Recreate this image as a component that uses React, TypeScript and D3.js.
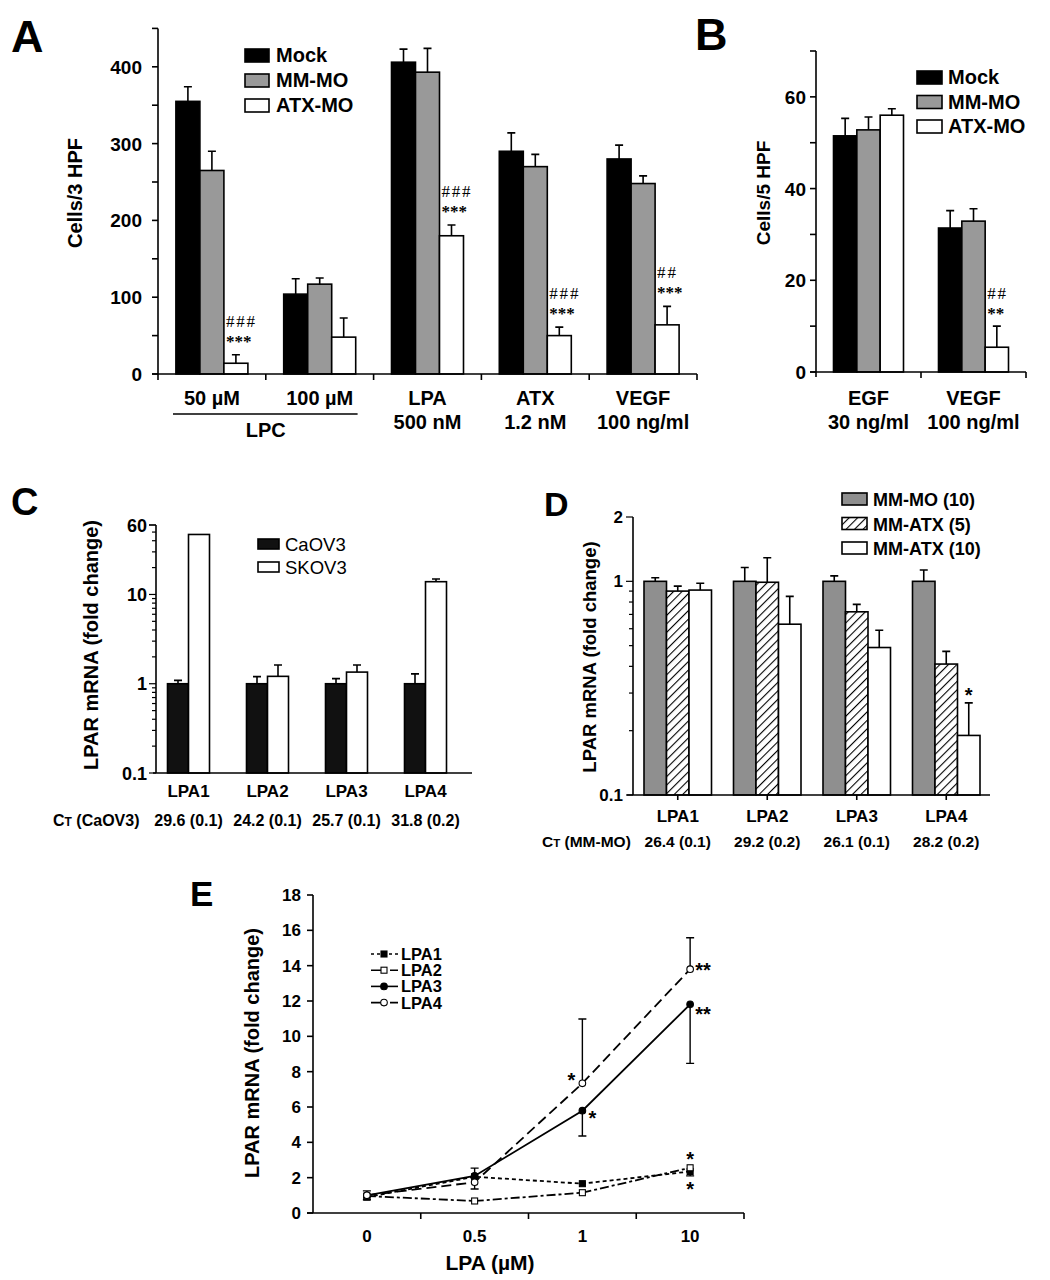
import React from 'react';
import * as d3 from 'd3';

const SANS = '"Liberation Sans", Arial, Helvetica, sans-serif';
const SERIF = '"Liberation Serif", "Times New Roman", serif';

// ---------- Panel A data ----------
const aCategories = ['50 µM', '100 µM', 'LPA', 'ATX', 'VEGF'];
const aSubLabels = ['', '', '500 nM', '1.2 nM', '100 ng/ml'];
const aSeries = ['Mock', 'MM-MO', 'ATX-MO'];
const aMock = [355, 104, 406, 290, 280];
const aMockErr = [19, 20, 17, 24, 18];
const aMM = [265, 117, 393, 270, 248];
const aMMErr = [25, 8, 31, 16, 10];
const aATX = [14, 48, 180, 50, 64];
const aATXErr = [11, 25, 14, 11, 24];
const aHash = ['###', '', '###', '###', '##'];
const aStars = ['***', '', '***', '***', '***'];
const aYTicks = [0, 100, 200, 300, 400];
const aGroupLabel = 'LPC';

// ---------- Panel B data ----------
const bCategories = ['EGF', 'VEGF'];
const bSubLabels = ['30 ng/ml', '100 ng/ml'];
const bMock = [51.5, 31.4];
const bMockErr = [3.8, 3.8];
const bMM = [52.8, 32.9];
const bMMErr = [2.8, 2.7];
const bATX = [56.0, 5.4];
const bATXErr = [1.4, 4.6];
const bHash = ['', '##'];
const bStars = ['', '**'];
const bYTicks = [0, 20, 40, 60];

// ---------- Panel C data ----------
const cGenes = ['LPA1', 'LPA2', 'LPA3', 'LPA4'];
const cSeries = ['CaOV3', 'SKOV3'];
const cCaov3 = [1, 1, 1, 1];
const cCaov3Upper = [1.09, 1.2, 1.14, 1.29];
const cSkov3 = [47, 1.21, 1.35, 13.9];
const cSkov3Upper = [null, 1.62, 1.62, 14.9];
const cCt = ['29.6 (0.1)', '24.2 (0.1)', '25.7 (0.1)', '31.8 (0.2)'];
const cYLabels = [0.1, 1, 10, 60];

// ---------- Panel D data ----------
const dSeries = ['MM-MO (10)', 'MM-ATX (5)', 'MM-ATX (10)'];
const dMMMO = [1, 1, 1, 1];
const dMMMOUpper = [1.04, 1.16, 1.06, 1.13];
const dATX5 = [0.9, 0.99, 0.72, 0.41];
const dATX5Upper = [0.95, 1.29, 0.78, 0.47];
const dATX10 = [0.91, 0.63, 0.49, 0.19];
const dATX10Upper = [0.98, 0.85, 0.59, 0.27];
const dStars = ['', '', '', '*'];
const dCt = ['26.4 (0.1)', '29.2 (0.2)', '26.1 (0.1)', '28.2 (0.2)'];
const dYLabels = [0.1, 1, 2];

// ---------- Panel E data ----------
const eDoses = ['0', '0.5', '1', '10'];
const eLPA1 = [0.9, 2.05, 1.66, 2.35];
const eLPA2 = [0.96, 0.68, 1.15, 2.56];
const eLPA3 = [1.0, 2.1, 5.79, 11.81];
const eLPA4 = [1.0, 1.74, 7.34, 13.8];
const eLPA1Lo = [null, null, null, 2.1];
const eLPA1Hi = [null, null, null, null];
const eLPA2Lo = [null, null, null, null];
const eLPA2Hi = [null, null, null, null];
const eLPA3Lo = [0.75, null, 4.36, 8.47];
const eLPA3Hi = [1.25, 2.54, null, null];
const eLPA4Lo = [null, 1.36, null, null];
const eLPA4Hi = [null, null, 10.98, 15.58];
const eLPA1Stars = ['', '', '', '*'];
const eLPA2Stars = ['', '', '', '*'];
const eLPA3Stars = ['', '', '*', '**'];
const eLPA4Stars = ['', '', '*', '**'];
const eYTicks = [0, 2, 4, 6, 8, 10, 12, 14, 16, 18];

const SW = 1.6;

function bars(key, cats, series, vals, uppers, fills, x, y, groupW, base) {
  const inner = d3.scaleBand().domain(series).range([0, groupW]);
  const out = [];
  cats.forEach((c, i) => {
    const gx = x(c) + x.bandwidth() / 2 - groupW / 2;
    series.forEach((s, j) => {
      const v = vals[j][i];
      const bx = gx + inner(s);
      const bw = inner.bandwidth();
      const yt = y(v);
      out.push(
        <rect key={`${key}-r-${i}-${j}`} x={bx} y={yt} width={bw} height={base - yt}
          fill={fills[j]} stroke="#000" strokeWidth={SW} />
      );
      const u = uppers[j][i];
      if (u != null && u > v) {
        const cx = bx + bw / 2;
        const uy = y(u);
        out.push(
          <path key={`${key}-e-${i}-${j}`} d={`M${cx},${yt}V${uy}M${cx - 4},${uy}H${cx + 4}`}
            stroke="#000" strokeWidth={SW} fill="none" />
        );
      }
    });
  });
  return out;
}

function barX(x, cats, series, groupW, c, s) {
  const inner = d3.scaleBand().domain(series).range([0, groupW]);
  return { x: x(c) + x.bandwidth() / 2 - groupW / 2 + inner(s), w: inner.bandwidth() };
}

function sigMark(key, x, top, hash, stars, hashGap, starGap) {
  if (!hash && !stars) return null;
  return (
    <g key={key} fontFamily={SERIF}>
      {hash && <text x={x} y={top - hashGap} fontSize={17} letterSpacing={1.8}>{hash}</text>}
      {stars && <text x={x} y={top - starGap} fontSize={17} fontWeight="bold">{stars}</text>}
    </g>
  );
}

export default function App() {
  // ===== Panel A =====
  const aX = d3.scaleBand().domain(aCategories).range([158, 697]);
  const aY = d3.scaleLinear().domain([0, 450]).range([374, 28.4]);
  const aGW = 72;
  const aBase = aY(0);
  const aFills = ['#000', '#999', '#fff'];
  const aUp = (vals, errs) => vals.map((v, i) => v + errs[i]);

  // ===== Panel B =====
  const bX = d3.scaleBand().domain(bCategories).range([816, 1026]);
  const bY = d3.scaleLinear().domain([0, 70]).range([372, 51]);
  const bGW = 70;
  const bBase = bY(0);

  // ===== Panel C =====
  const cX = d3.scaleBand().domain(cGenes).range([149, 465]);
  const cY = d3.scaleLog().domain([0.1, 60]).range([773, 525]);
  const cGW = 42;
  const cBase = cY(0.1);

  // ===== Panel D =====
  const dX = d3.scaleBand().domain(cGenes).range([633, 991]);
  const dY = d3.scaleLog().domain([0.1, 2]).range([795, 517]);
  const dGW = 67.5;
  const dBase = dY(0.1);

  // ===== Panel E =====
  const eX = d3.scaleBand().domain(eDoses).range([313, 744]);
  const eY = d3.scaleLinear().domain([0, 18]).range([1213, 895]);
  const ePx = (i) => eX(eDoses[i]) + eX.bandwidth() / 2;

  const eSeries = [
    { name: 'LPA1', vals: eLPA1, lo: eLPA1Lo, hi: eLPA1Hi, dash: '4,3', marker: 'sq', fill: '#000', stars: eLPA1Stars },
    { name: 'LPA2', vals: eLPA2, lo: eLPA2Lo, hi: eLPA2Hi, dash: '9,3,3,3', marker: 'sq', fill: '#fff', stars: eLPA2Stars },
    { name: 'LPA3', vals: eLPA3, lo: eLPA3Lo, hi: eLPA3Hi, dash: null, marker: 'ci', fill: '#000', stars: eLPA3Stars },
    { name: 'LPA4', vals: eLPA4, lo: eLPA4Lo, hi: eLPA4Hi, dash: '10,5', marker: 'ci', fill: '#fff', stars: eLPA4Stars },
  ];
  const eStarOff = {
    LPA1: [null, null, null, [0, 14, 'middle']],
    LPA2: [null, null, null, [0, -13, 'middle']],
    LPA3: [null, null, [6, 3, 'start'], [5, 6, 'start']],
    LPA4: [null, null, [-15, -7, 'start'], [5, -3, 'start']],
  };
  const line = d3.line().x((d) => d[0]).y((d) => d[1]);

  const marker = (key, m, fill, cx, cy) =>
    m === 'sq' ? (
      <rect key={key} x={cx - 3} y={cy - 3} width={6} height={6} fill={fill} stroke="#000" strokeWidth={1.1} />
    ) : (
      <circle key={key} cx={cx} cy={cy} r={3.3} fill={fill} stroke="#000" strokeWidth={1.1} />
    );

  const legendA = aSeries.map((s, j) => (
    <g key={`la-${j}`}>
      <rect x={245} y={49 + j * 25} width={24} height={13} fill={aFills[j]} stroke="#000" strokeWidth={SW} />
      <text x={276} y={62 + j * 25} fontSize={20} fontWeight="bold">{s}</text>
    </g>
  ));
  const legendB = aSeries.map((s, j) => (
    <g key={`lb-${j}`}>
      <rect x={917} y={71 + j * 24.5} width={25} height={13} fill={aFills[j]} stroke="#000" strokeWidth={SW} />
      <text x={948} y={84 + j * 24.5} fontSize={20} fontWeight="bold">{s}</text>
    </g>
  ));
  const cFills = ['#111', '#fff'];
  const legendC = cSeries.map((s, j) => (
    <g key={`lc-${j}`}>
      <rect x={258} y={539 + j * 23} width={21} height={10} fill={cFills[j]} stroke="#000" strokeWidth={SW} />
      <text x={285} y={551 + j * 23} fontSize={18.5}>{s}</text>
    </g>
  ));
  const dFills = ['#8f8f8f', 'url(#hatch)', '#fff'];
  const legendD = dSeries.map((s, j) => (
    <g key={`ld-${j}`}>
      <rect x={842} y={493 + j * 24.5} width={25} height={12} fill={dFills[j]} stroke="#000" strokeWidth={SW} />
      <text x={873} y={506 + j * 24.5} fontSize={18} fontWeight="bold">{s}</text>
    </g>
  ));

  return (
    <svg width={1050} height={1280} style={{ position: 'absolute', left: 0, top: 0, background: '#fff' }}
      fontFamily={SANS} fill="#000">
      <defs>
        <pattern id="hatch" patternUnits="userSpaceOnUse" width={6} height={6} patternTransform="rotate(45)">
          <rect width={6} height={6} fill="#fff" />
          <line x1={0} y1={0} x2={0} y2={6} stroke="#000" strokeWidth={2.2} />
        </pattern>
      </defs>
      <rect x={0} y={0} width={1050} height={1280} fill="#fff" />

      {/* ================= Panel A ================= */}
      <text x={11} y={52} fontSize={45} fontWeight="bold">A</text>
      <text transform="translate(75,193) rotate(-90)" textAnchor="middle" dy="0.35em" fontSize={20} fontWeight="bold">Cells/3 HPF</text>
      {d3.range(0, 451, 50).map((t) => (
        <line key={`at-${t}`} x1={152} x2={158} y1={aY(t)} y2={aY(t)} stroke="#000" strokeWidth={SW} />
      ))}
      {aYTicks.map((t) => (
        <text key={`al-${t}`} x={142} y={aY(t) + 7} textAnchor="end" fontSize={19} fontWeight="bold">{t}</text>
      ))}
      {bars('a', aCategories, aSeries, [aMock, aMM, aATX],
        [aUp(aMock, aMockErr), aUp(aMM, aMMErr), aUp(aATX, aATXErr)], aFills, aX, aY, aGW, aBase)}
      <line x1={158} x2={158} y1={aY(450)} y2={aBase + 6} stroke="#000" strokeWidth={SW} />
      <line x1={152} x2={697} y1={aBase} y2={aBase} stroke="#000" strokeWidth={SW} />
      {aCategories.map((c) => (
        <line key={`axt-${c}`} x1={aX(c) + aX.bandwidth()} x2={aX(c) + aX.bandwidth()} y1={aBase} y2={aBase + 6} stroke="#000" strokeWidth={SW} />
      ))}
      {aCategories.map((c, i) => {
        const b = barX(aX, aCategories, aSeries, aGW, c, aSeries[2]);
        const top = aY(aATX[i] + aATXErr[i]);
        return sigMark(`aan-${i}`, b.x + 2, top, aHash[i], aStars[i], 28, 8);
      })}
      {aCategories.map((c, i) => (
        <g key={`axl-${i}`}>
          <text x={aX(c) + aX.bandwidth() / 2} y={405} textAnchor="middle" fontSize={20} fontWeight="bold">{c}</text>
          {aSubLabels[i] && (
            <text x={aX(c) + aX.bandwidth() / 2} y={429} textAnchor="middle" fontSize={20} fontWeight="bold">{aSubLabels[i]}</text>
          )}
        </g>
      ))}
      <line x1={aX(aCategories[0]) + 15} x2={aX(aCategories[1]) + aX.bandwidth() - 16} y1={414} y2={414} stroke="#000" strokeWidth={SW} />
      <text x={(aX(aCategories[0]) + aX(aCategories[1]) + aX.bandwidth()) / 2} y={437} textAnchor="middle" fontSize={20} fontWeight="bold">{aGroupLabel}</text>
      {legendA}

      {/* ================= Panel B ================= */}
      <text x={695} y={50} fontSize={45} fontWeight="bold">B</text>
      <text transform="translate(763,193) rotate(-90)" textAnchor="middle" dy="0.35em" fontSize={19} fontWeight="bold">Cells/5 HPF</text>
      {d3.range(0, 71, 10).map((t) => (
        <line key={`bt-${t}`} x1={810} x2={816} y1={bY(t)} y2={bY(t)} stroke="#000" strokeWidth={SW} />
      ))}
      {bYTicks.map((t) => (
        <text key={`bl-${t}`} x={806} y={bY(t) + 7} textAnchor="end" fontSize={19} fontWeight="bold">{t}</text>
      ))}
      {bars('b', bCategories, aSeries, [bMock, bMM, bATX],
        [aUp(bMock, bMockErr), aUp(bMM, bMMErr), aUp(bATX, bATXErr)], aFills, bX, bY, bGW, bBase)}
      <line x1={816} x2={816} y1={bY(70)} y2={bBase + 5} stroke="#000" strokeWidth={SW} />
      <line x1={810} x2={1026} y1={bBase} y2={bBase} stroke="#000" strokeWidth={SW} />
      {bCategories.map((c) => (
        <line key={`bxt-${c}`} x1={bX(c) + bX.bandwidth()} x2={bX(c) + bX.bandwidth()} y1={bBase} y2={bBase + 6} stroke="#000" strokeWidth={SW} />
      ))}
      {bCategories.map((c, i) => {
        const b = barX(bX, bCategories, aSeries, bGW, c, aSeries[2]);
        const top = bY(bATX[i] + bATXErr[i]);
        return sigMark(`ban-${i}`, b.x + 2, top, bHash[i], bStars[i], 27, 7);
      })}
      {bCategories.map((c, i) => (
        <g key={`bxl-${i}`}>
          <text x={bX(c) + bX.bandwidth() / 2} y={405} textAnchor="middle" fontSize={20} fontWeight="bold">{c}</text>
          <text x={bX(c) + bX.bandwidth() / 2} y={429} textAnchor="middle" fontSize={20} fontWeight="bold">{bSubLabels[i]}</text>
        </g>
      ))}
      {legendB}

      {/* ================= Panel C ================= */}
      <text x={11} y={515} fontSize={38} fontWeight="bold">C</text>
      <text transform="translate(91,645) rotate(-90)" textAnchor="middle" dy="0.35em" fontSize={20} fontWeight="bold">LPAR mRNA (fold change)</text>
      {cY.ticks().concat([60]).map((t, k) => {
        const major = cYLabels.includes(t);
        return <line key={`ct-${k}`} x1={156 - (major ? 7 : 4)} x2={156} y1={cY(t)} y2={cY(t)} stroke="#000" strokeWidth={1.2} />;
      })}
      {cYLabels.map((t) => (
        <text key={`cl-${t}`} x={147} y={cY(t) + 6.5} textAnchor="end" fontSize={18} fontWeight="bold">{t}</text>
      ))}
      {bars('c', cGenes, cSeries, [cCaov3, cSkov3], [cCaov3Upper, cSkov3Upper], cFills, cX, cY, cGW, cBase)}
      <line x1={156} x2={156} y1={cY(60)} y2={cBase} stroke="#000" strokeWidth={SW} />
      <line x1={153} x2={472} y1={cBase} y2={cBase} stroke="#000" strokeWidth={SW} />
      {cGenes.map((g, i) => (
        <g key={`cxl-${i}`}>
          <text x={cX(g) + cX.bandwidth() / 2} y={797} textAnchor="middle" fontSize={17} fontWeight="bold">{g}</text>
          <text x={cX(g) + cX.bandwidth() / 2} y={826} textAnchor="middle" fontSize={16} fontWeight="bold">{cCt[i]}</text>
        </g>
      ))}
      <text x={53} y={826} fontSize={16} fontWeight="bold">C<tspan fontSize={12}>T</tspan> (CaOV3)</text>
      {legendC}

      {/* ================= Panel D ================= */}
      <text x={544} y={516} fontSize={34} fontWeight="bold">D</text>
      <text transform="translate(590,657) rotate(-90)" textAnchor="middle" dy="0.35em" fontSize={18.5} fontWeight="bold">LPAR mRNA (fold change)</text>
      {dY.ticks().map((t, k) => {
        const major = dYLabels.includes(t);
        return <line key={`dt-${k}`} x1={633 - (major ? 7 : 4)} x2={633} y1={dY(t)} y2={dY(t)} stroke="#000" strokeWidth={1.2} />;
      })}
      {dYLabels.map((t) => (
        <text key={`dl-${t}`} x={623} y={dY(t) + 6} textAnchor="end" fontSize={17} fontWeight="bold">{t}</text>
      ))}
      {bars('d', cGenes, dSeries, [dMMMO, dATX5, dATX10], [dMMMOUpper, dATX5Upper, dATX10Upper], dFills, dX, dY, dGW, dBase)}
      <line x1={633} x2={633} y1={dY(2)} y2={dBase} stroke="#000" strokeWidth={SW} />
      <line x1={627} x2={990} y1={dBase} y2={dBase} stroke="#000" strokeWidth={SW} />
      {cGenes.map((g) => (
        <line key={`dxt-${g}`} x1={dX(g) + dX.bandwidth() / 2} x2={dX(g) + dX.bandwidth() / 2} y1={dBase} y2={dBase + 5} stroke="#000" strokeWidth={SW} />
      ))}
      {cGenes.map((g, i) => {
        const b = barX(dX, cGenes, dSeries, dGW, g, dSeries[2]);
        return dStars[i] ? (
          <text key={`dan-${i}`} x={b.x + b.w / 2} y={dY(dATX10Upper[i]) - 1} textAnchor="middle" fontSize={20} fontWeight="bold">{dStars[i]}</text>
        ) : null;
      })}
      {cGenes.map((g, i) => (
        <g key={`dxl-${i}`}>
          <text x={dX(g) + dX.bandwidth() / 2} y={822} textAnchor="middle" fontSize={17} fontWeight="bold">{g}</text>
          <text x={dX(g) + dX.bandwidth() / 2} y={847} textAnchor="middle" fontSize={15.5} fontWeight="bold">{dCt[i]}</text>
        </g>
      ))}
      <text x={542} y={847} fontSize={15.5} fontWeight="bold">C<tspan fontSize={11.5}>T</tspan> (MM-MO)</text>
      {legendD}

      {/* ================= Panel E ================= */}
      <text x={190} y={906} fontSize={35} fontWeight="bold">E</text>
      <text transform="translate(252,1053) rotate(-90)" textAnchor="middle" dy="0.35em" fontSize={20} fontWeight="bold">LPAR mRNA (fold change)</text>
      {eYTicks.map((t) => (
        <g key={`et-${t}`}>
          <line x1={307} x2={313} y1={eY(t)} y2={eY(t)} stroke="#000" strokeWidth={SW} />
          <text x={301} y={eY(t) + 6} textAnchor="end" fontSize={17} fontWeight="bold">{t}</text>
        </g>
      ))}
      <line x1={313} x2={313} y1={eY(18)} y2={eY(0)} stroke="#000" strokeWidth={SW} />
      <line x1={307} x2={744} y1={eY(0)} y2={eY(0)} stroke="#000" strokeWidth={SW} />
      {eDoses.map((d, i) => (
        <g key={`ex-${i}`}>
          <line x1={eX(d) + eX.bandwidth()} x2={eX(d) + eX.bandwidth()} y1={eY(0)} y2={eY(0) + 6} stroke="#000" strokeWidth={SW} />
          <text x={ePx(i)} y={1242} textAnchor="middle" fontSize={17} fontWeight="bold">{d}</text>
        </g>
      ))}
      <text x={490} y={1270} textAnchor="middle" fontSize={21} fontWeight="bold">LPA (µM)</text>
      {eSeries.map((s) => (
        <path key={`el-${s.name}`} d={line(s.vals.map((v, i) => [ePx(i), eY(v)]))} fill="none" stroke="#000"
          strokeWidth={1.8} strokeDasharray={s.dash || undefined} />
      ))}
      {eSeries.map((s) =>
        s.vals.map((v, i) => {
          const cx = ePx(i);
          const parts = [];
          if (s.lo[i] != null) parts.push(`M${cx},${eY(v)}V${eY(s.lo[i])}M${cx - 4},${eY(s.lo[i])}H${cx + 4}`);
          if (s.hi[i] != null) parts.push(`M${cx},${eY(v)}V${eY(s.hi[i])}M${cx - 4},${eY(s.hi[i])}H${cx + 4}`);
          return parts.length ? <path key={`eb-${s.name}-${i}`} d={parts.join('')} stroke="#000" strokeWidth={1.4} fill="none" /> : null;
        })
      )}
      {eSeries.map((s) => s.vals.map((v, i) => marker(`em-${s.name}-${i}`, s.marker, s.fill, ePx(i), eY(v))))}
      {eSeries.map((s) =>
        s.stars.map((st, i) => {
          const off = eStarOff[s.name][i];
          if (!st || !off) return null;
          return (
            <text key={`es-${s.name}-${i}`} x={ePx(i) + off[0]} y={eY(s.vals[i]) + off[1] + 11} textAnchor={off[2]}
              fontSize={20} fontWeight="bold">{st}</text>
          );
        })
      )}
      {eSeries.map((s, j) => {
        const cy = 954 + j * 16.2;
        return (
          <g key={`le-${j}`}>
            <line x1={371} x2={398} y1={cy} y2={cy} stroke="#000" strokeWidth={1.6} strokeDasharray={s.dash ? (j === 0 ? '3,3' : '10,3,3,3') : undefined} />
            {marker(`lem-${j}`, s.marker, s.fill, 384, cy)}
            <text x={401} y={cy + 6} fontSize={16.5} fontWeight="bold">{s.name}</text>
          </g>
        );
      })}
    </svg>
  );
}
